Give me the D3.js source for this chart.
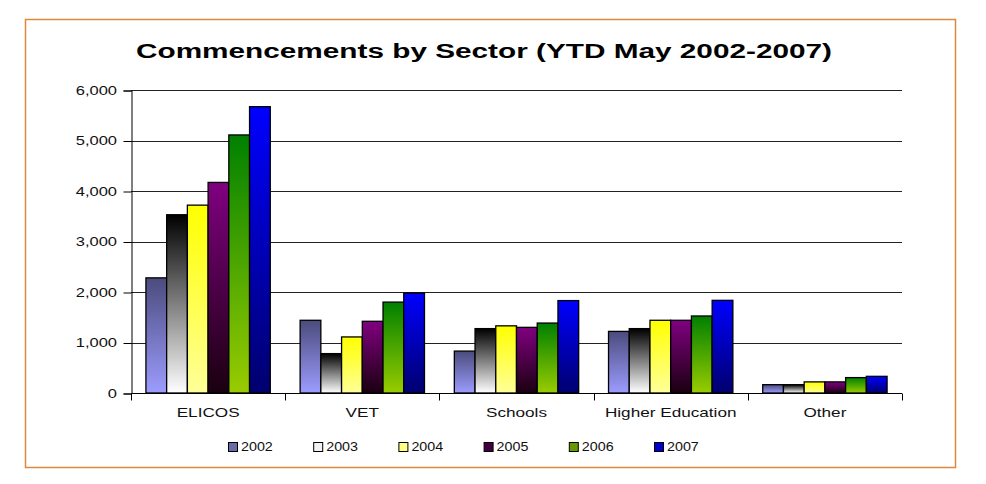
<!DOCTYPE html>
<html>
<head>
<meta charset="utf-8">
<script src="https://cdn.jsdelivr.net/npm/d3@7"></script>
<style>
  body { margin: 0; background: #fff; }
  svg { display: block; font-family: Arial, "Liberation Sans", sans-serif; }
</style>
</head>
<body>
<svg id="chart" width="986" height="484"></svg>
<script>
// chart data
var sectors = ['ELICOS', 'VET', 'Schools', 'Higher Education', 'Other'];
var years = ['2002', '2003', '2004', '2005', '2006', '2007'];
var v2002 = [2280, 1440, 830, 1220, 165];
var v2003 = [3530, 780, 1275, 1275, 165];
var v2004 = [3720, 1110, 1330, 1440, 220];
var v2005 = [4170, 1420, 1300, 1440, 220];
var v2006 = [5110, 1800, 1385, 1525, 305];
var v2007 = [5670, 1980, 1830, 1835, 330];
var yTicks = [0, 1000, 2000, 3000, 4000, 5000, 6000];

var series = [v2002, v2003, v2004, v2005, v2006, v2007];

// gradient colours per year (top, bottom) and legend swatch
var gradTop = ['#4b4b7d', '#000000', '#ffff00', '#800080', '#008000', '#0000ff'];
var gradBot = ['#9c9cff', '#ffffff', '#ffff99', '#1a0010', '#99cc00', '#00006e'];
var swatch = ['#6b6ba8', '#f2f2f2', '#ffff80', '#400040', '#669900', '#0000cc'];

var svg = d3.select('#chart');
var margin = {left: 131, right: 84, top: 90, bottom: 91};
var W = 986, H = 484;
var stretch = 1.32; // the source picture is stretched sideways

var defs = svg.append('defs');
years.forEach(function(y, i) {
    var g = defs.append('linearGradient')
        .attr('id', 'g' + y)
        .attr('x1', 0).attr('y1', 0).attr('x2', 0).attr('y2', 1);
    g.append('stop').attr('offset', '0%').attr('stop-color', gradTop[i]);
    g.append('stop').attr('offset', '100%').attr('stop-color', gradBot[i]);
});

// orange frame
svg.append('rect')
    .attr('x', 25.5).attr('y', 19.5)
    .attr('width', 930).attr('height', 448)
    .attr('fill', '#fff')
    .attr('stroke', '#e0883c')
    .attr('stroke-width', 1.5);

svg.append('text')
    .attr('x', 484).attr('y', 58)
    .attr('text-anchor', 'middle')
    .attr('font-size', 20)
    .attr('font-weight', 'bold')
    .attr('textLength', 696)
    .attr('lengthAdjust', 'spacingAndGlyphs')
    .text('Commencements by Sector (YTD May 2002-2007)');

var x0 = d3.scaleBand()
    .domain(sectors)
    .range([margin.left, W - margin.right])
    .paddingInner(0)
    .paddingOuter(0);

var x1 = d3.scaleBand()
    .domain(years)
    .range([0, x0.bandwidth()])
    .paddingInner(0)
    .paddingOuter(0.72);

var y = d3.scaleLinear()
    .domain([0, 6000])
    .range([H - margin.bottom, margin.top]);

// gridlines
svg.append('g')
    .selectAll('line')
    .data(yTicks.slice(1))
    .enter().append('line')
        .attr('x1', margin.left).attr('x2', W - margin.right)
        .attr('y1', function(d) { return Math.round(y(d)) + 0.5; })
        .attr('y2', function(d) { return Math.round(y(d)) + 0.5; })
        .attr('stroke', '#222')
        .attr('stroke-width', 1.2);

// bars
var groups = svg.append('g')
    .selectAll('g')
    .data(sectors)
    .enter().append('g')
        .attr('transform', function(d) { return 'translate(' + x0(d) + ',0)'; });

groups.selectAll('rect')
    .data(function(d, si) { return years.map(function(yr, yi) { return {year: yr, value: series[yi][si]}; }); })
    .enter().append('rect')
        .attr('x', function(d) { return x1(d.year); })
        .attr('y', function(d) { return y(d.value); })
        .attr('width', x1.bandwidth())
        .attr('height', function(d) { return y(0) - y(d.value); })
        .attr('fill', function(d) { return 'url(#g' + d.year + ')'; })
        .attr('stroke', '#000')
        .attr('stroke-width', 1.3);

// y axis
var yAxis = d3.axisLeft(y)
    .tickValues(yTicks)
    .tickSize(8)
    .tickFormat('');
var ya = svg.append('g')
    .attr('transform', 'translate(' + (margin.left + 0.5) + ',0.5)')
    .call(yAxis);
ya.select('.domain').attr('stroke', '#000');
ya.selectAll('.tick line').attr('stroke', '#000');

svg.append('g')
    .selectAll('text')
    .data(yTicks)
    .enter().append('text')
        .attr('transform', function(d) { return 'translate(117,' + (y(d) + 4.5) + ') scale(' + stretch + ',1)'; })
        .attr('text-anchor', 'end')
        .attr('font-size', 12.5)
        .attr('fill', '#111')
        .text(d3.format(','));

// x axis
var xa = svg.append('g')
    .attr('transform', 'translate(0,' + (y(0) + 0.5) + ')');
xa.append('line')
    .attr('x1', margin.left).attr('x2', W - margin.right)
    .attr('stroke', '#000');
xa.selectAll('.tk')
    .data(sectors.concat(['end']))
    .enter().append('line')
        .attr('class', 'tk')
        .attr('x1', function(d, i) { return Math.round(margin.left + i * x0.bandwidth()) + 0.5; })
        .attr('x2', function(d, i) { return Math.round(margin.left + i * x0.bandwidth()) + 0.5; })
        .attr('y1', 0).attr('y2', 7)
        .attr('stroke', '#000');
xa.selectAll('text')
    .data(sectors)
    .enter().append('text')
        .attr('transform', function(d) { return 'translate(' + (x0(d) + x0.bandwidth() / 2) + ',23) scale(' + stretch + ',1)'; })
        .attr('text-anchor', 'middle')
        .attr('font-size', 13)
        .attr('fill', '#111')
        .text(function(d) { return d; });

// legend
var legend = svg.append('g')
    .selectAll('g')
    .data(years)
    .enter().append('g')
        .attr('transform', function(d, i) { return 'translate(' + (228 + i * 85.2) + ',442)'; });
legend.append('rect')
    .attr('x', 0.5).attr('y', 0.5)
    .attr('width', 9).attr('height', 9)
    .attr('fill', function(d, i) { return swatch[i]; })
    .attr('stroke', '#000');
legend.append('text')
    .attr('transform', 'translate(13,8.5) scale(1.1,1)')
    .attr('font-size', 13)
    .attr('fill', '#111')
    .text(function(d) { return d; });
</script>
</body>
</html>
